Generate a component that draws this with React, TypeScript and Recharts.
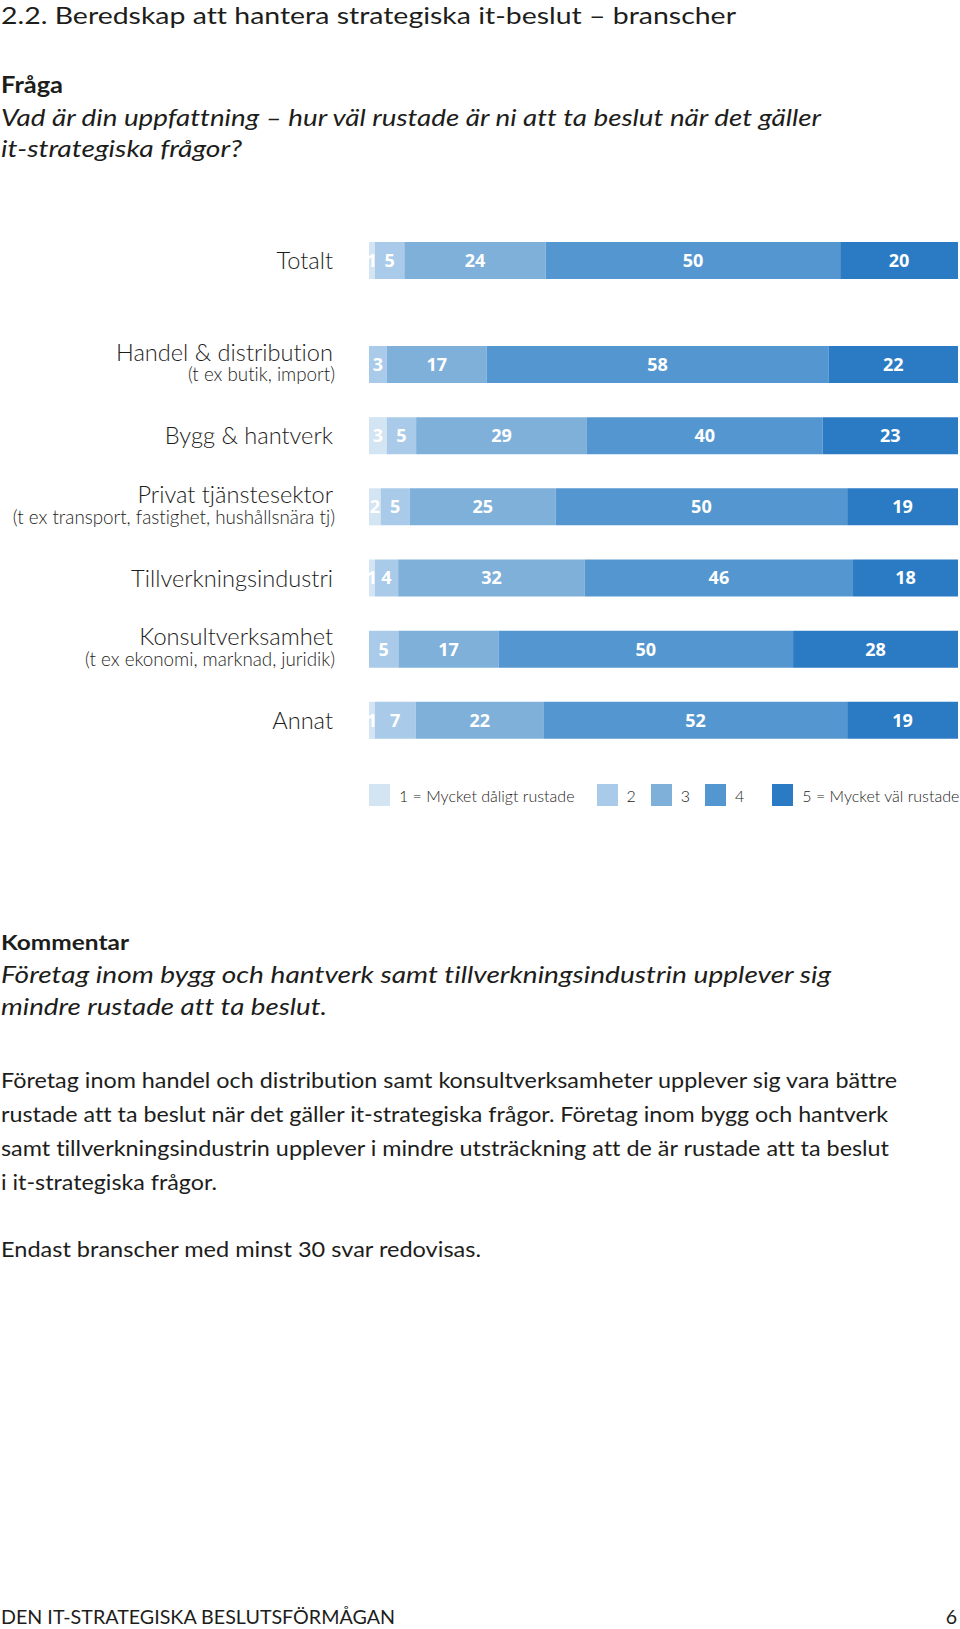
import React from 'react';
import { BarChart, Bar, XAxis, YAxis, LabelList } from 'recharts';

// ---------- data ----------
const categories = [
  'Totalt',
  'Handel & distribution',
  'Bygg & hantverk',
  'Privat tjänstesektor',
  'Tillverkningsindustri',
  'Konsultverksamhet',
  'Annat',
];
const subLabels = [
  '',
  '(t ex butik, import)',
  '',
  '(t ex transport, fastighet, hushållsnära tj)',
  '',
  '(t ex ekonomi, marknad, juridik)',
  '',
];
const level1 = [1, 0, 3, 2, 1, 0, 1];
const level2 = [5, 3, 5, 5, 4, 5, 7];
const level3 = [24, 17, 29, 25, 32, 17, 22];
const level4 = [50, 58, 40, 50, 46, 50, 52];
const level5 = [20, 22, 23, 19, 18, 28, 19];
const legendLabels = ['1 = Mycket dåligt rustade', '2', '3', '4', '5 = Mycket väl rustade'];

const seriesKeys = ['l1', 'l2', 'l3', 'l4', 'l5'];
const colors = ['#d3e4f3', '#a9cbe9', '#7fb0da', '#5497d0', '#2b7bc4'];

const rows = categories.map((name, i) => ({
  name,
  l1: level1[i],
  l2: level2[i],
  l3: level3[i],
  l4: level4[i],
  l5: level5[i],
}));
const totalRows = rows.slice(0, 1);
const branchRows = rows.slice(1);

// ---------- styles ----------
const BODY_FONT = "Lato, 'Open Sans', sans-serif";
const LABEL_FONT = "'Open Sans', 'Noto Sans', sans-serif";
const TEXT_COLOR = '#1d1d1b';
const NO_LIGA = { fontVariantLigatures: 'none' as const, fontFeatureSettings: '"liga" 0, "clig" 0' };

const CategoryTick = (props: any) => {
  const { x, y, payload } = props;
  const idx = categories.indexOf(payload.value);
  const sub = idx >= 0 ? subLabels[idx] : '';
  const common = {
    textAnchor: 'end' as const,
    fill: TEXT_COLOR,
    fontFamily: BODY_FONT,
    fontWeight: 300,
    style: NO_LIGA,
  };
  if (sub) {
    return (
      <g>
        <text x={x - 2} y={y - 12.5} dy="0.36em" fontSize={23.6} {...common}>
          {payload.value}
        </text>
        <text x={x} y={y + 10} dy="0.36em" fontSize={18.8} {...common}>
          {sub}
        </text>
      </g>
    );
  }
  return (
    <text x={x - 2} y={y} dy="0.36em" fontSize={23.6} {...common}>
      {payload.value}
    </text>
  );
};

const ValueLabel = (props: any) => {
  const vb = props.viewBox && props.viewBox.width !== undefined ? props.viewBox : props;
  const { x, y, width, height } = vb;
  const value = props.value;
  if (!value) return null;
  return (
    <text
      x={x + width / 2}
      y={y + height / 2}
      dy="0.36em"
      textAnchor="middle"
      fill="#ffffff"
      fontFamily={LABEL_FONT}
      fontWeight={700}
      fontSize={18}
    >
      {value}
    </text>
  );
};

const renderBars = () =>
  seriesKeys.map((k, i) => (
    <Bar key={k} dataKey={k} stackId="s" fill={colors[i]} barSize={37} isAnimationActive={false}>
      <LabelList dataKey={k} content={<ValueLabel />} />
    </Bar>
  ));

const StackChart = ({ data, height }: { data: any[]; height: number }) => (
  <BarChart
    width={960}
    height={height}
    layout="vertical"
    data={data}
    stackOffset="expand"
    margin={{ top: 0, right: 2, bottom: 0, left: 0 }}
  >
    <XAxis type="number" hide domain={[0, 1]} />
    <YAxis
      type="category"
      dataKey="name"
      width={369}
      axisLine={false}
      tickLine={false}
      tickSize={0}
      tickMargin={34}
      interval={0}
      tick={<CategoryTick />}
    />
    {renderBars()}
  </BarChart>
);

const Line = ({
  y,
  x = 1,
  w,
  size,
  weight = 400,
  italic = false,
  anchor = 'start',
  children,
}: any) => (
  <text
    x={x}
    y={y}
    fontSize={size}
    fontWeight={weight}
    fontStyle={italic ? 'italic' : 'normal'}
    fontFamily={BODY_FONT}
    fill={TEXT_COLOR}
    textAnchor={anchor}
    style={NO_LIGA}
    {...(w ? { textLength: w, lengthAdjust: 'spacingAndGlyphs' } : {})}
  >
    {children}
  </text>
);

const legendGaps = [22, 15, 15, 28, 0];

export default function App() {
  return (
    <div
      style={{
        position: 'absolute',
        left: 0,
        top: 0,
        width: 960,
        height: 1629,
        background: '#ffffff',
        overflow: 'hidden',
      }}
    >
      <svg
        width={960}
        height={1629}
        style={{ position: 'absolute', left: 0, top: 0 }}
      >
        <Line y={23.5} w={735} size={23.5}>
          2.2. Beredskap att hantera strategiska it-beslut – branscher
        </Line>
        <Line y={93} w={62} size={22} weight={700}>
          Fråga
        </Line>
        <Line y={126} w={820} size={23} italic>
          Vad är din uppfattning – hur väl rustade är ni att ta beslut när det gäller
        </Line>
        <Line y={157} w={241} size={23} italic>
          it-strategiska frågor?
        </Line>

        <Line y={950} w={128} size={21} weight={700}>
          Kommentar
        </Line>
        <Line y={982.5} w={830} size={23} italic>
          Företag inom bygg och hantverk samt tillverkningsindustrin upplever sig
        </Line>
        <Line y={1015} w={326} size={23} italic>
          mindre rustade att ta beslut.
        </Line>

        <Line y={1088.3} w={896} size={21.5}>
          Företag inom handel och distribution samt konsultverksamheter upplever sig vara bättre
        </Line>
        <Line y={1121.7} w={887} size={21.5}>
          rustade att ta beslut när det gäller it-strategiska frågor. Företag inom bygg och hantverk
        </Line>
        <Line y={1155.7} w={888} size={21.5}>
          samt tillverkningsindustrin upplever i mindre utsträckning att de är rustade att ta beslut
        </Line>
        <Line y={1190} w={216} size={21.5}>
          i it-strategiska frågor.
        </Line>
        <Line y={1256.7} w={480} size={21.5}>
          Endast branscher med minst 30 svar redovisas.
        </Line>

        <Line y={1624} w={394} size={19.5}>
          DEN IT-STRATEGISKA BESLUTSFÖRMÅGAN
        </Line>
        <Line y={1624} x={957} size={19.5} anchor="end">
          6
        </Line>
      </svg>

      <div style={{ position: 'absolute', left: 0, top: 225 }}>
        <StackChart data={totalRows} height={71} />
      </div>
      <div style={{ position: 'absolute', left: 0, top: 329 }}>
        <StackChart data={branchRows} height={427} />
      </div>

      <div
        style={{
          position: 'absolute',
          left: 369,
          top: 784,
          display: 'flex',
          alignItems: 'center',
          height: 22,
          fontFamily: BODY_FONT,
          fontWeight: 300,
          fontSize: 16,
          color: TEXT_COLOR,
          whiteSpace: 'nowrap',
          ...NO_LIGA,
        }}
      >
        {legendLabels.map((lab, i) => (
          <div
            key={lab}
            style={{ display: 'flex', alignItems: 'center', marginRight: legendGaps[i] }}
          >
            <div style={{ width: 21, height: 22, background: colors[i], marginRight: 9 }} />
            <span>{lab}</span>
          </div>
        ))}
      </div>
    </div>
  );
}
